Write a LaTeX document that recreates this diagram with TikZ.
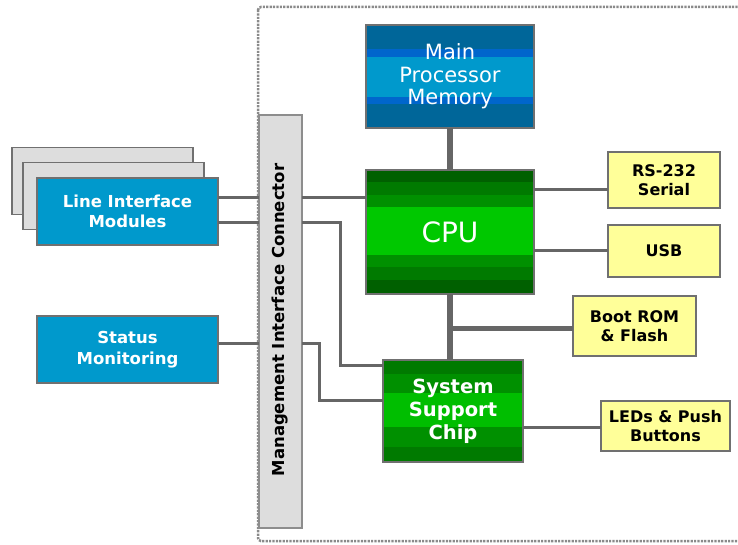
\documentclass[tikz,border=0pt]{standalone}
\usepackage{fontspec}
\setmainfont{DejaVu Sans}
\definecolor{lineg}{HTML}{666666}
\definecolor{boxline}{HTML}{707070}
\definecolor{bluebox}{HTML}{0099CC}
\definecolor{greybox}{HTML}{DDDDDD}
\definecolor{yelbox}{HTML}{FFFF99}
\definecolor{dotg}{HTML}{8A8A8A}
\definecolor{mA}{HTML}{006699}
\definecolor{mB}{HTML}{0066CC}
\definecolor{mC}{HTML}{0099CC}
\definecolor{gA}{HTML}{006000}
\definecolor{gB}{HTML}{007A00}
\definecolor{gC}{HTML}{009000}
\definecolor{gD}{HTML}{00C800}
\definecolor{gE}{HTML}{00BE00}
\begin{document}
\begin{tikzpicture}[x=1pt,y=-1pt,
  box/.style={draw=boxline, line width=1.5pt, inner sep=0pt, outer sep=0pt, align=center},
  bluestyle/.style={box, fill=bluebox, text=white, font=\bfseries\fontsize{16.5}{20.5}\selectfont, minimum width=181pt, minimum height=67pt},
  backstyle/.style={box, fill=greybox, minimum width=181pt, minimum height=67pt},
  yelstyle/.style={box, fill=yelbox, text=black, font=\bfseries\fontsize{16}{19}\selectfont},
  wire/.style={draw=lineg, line width=3pt},
  thickwire/.style={draw=lineg, line width=6pt},
]
\useasboundingbox (0,0) rectangle (738,545);
% dotted frame
\draw[draw=dotg, line width=2.5pt, dash pattern=on 2.2pt off 1.2pt, rounded corners=3pt] (258,7) rectangle (780,541);

% coordinates for connector levels
\coordinate (r1) at (0,198);
\coordinate (r2) at (0,223);
\coordinate (r3) at (0,343);
\coordinate (s1) at (0,365);
\coordinate (s2) at (0,400);
\coordinate (k1) at (340,223);
\coordinate (k2) at (340,365);
\coordinate (k3) at (319,343);
\coordinate (k4) at (319,400);
\coordinate (u1) at (0,190);
\coordinate (u2) at (0,250);
\coordinate (u3) at (0,328);
\coordinate (u4) at (0,427);

% back boxes
\node[backstyle] (back1) at (102.5,181) {};
\node[backstyle] (back2) at (113.5,196) {};

% nodes
\node[bluestyle] (lim) at (127.5,211.5) {Line Interface\\Modules};
\node[bluestyle] (status) at (127.5,349.5) {Status\\Monitoring};
\node[box, fill=greybox, draw=boxline!80, minimum width=43pt, minimum height=413pt] (conn) at (280.5,321.5) {};
\node[rotate=90, font=\bfseries\fontsize{16.5}{18}\selectfont] (conntext) at (280.5,320) {Management Interface Connector};

\node[box, minimum width=168pt, minimum height=103pt, text=white, font=\fontsize{21}{22.5}\selectfont,
  path picture={
    \fill[mA] (path picture bounding box.north west) rectangle (path picture bounding box.south east);
    \fill[mB] ([yshift=-24pt]path picture bounding box.north west) rectangle ([yshift=24pt]path picture bounding box.south east);
    \fill[mC] ([yshift=-32pt]path picture bounding box.north west) rectangle ([yshift=31pt]path picture bounding box.south east);
  }] (mem) at (450,76.5) {Main\\Processor\\Memory};

\node[box, minimum width=168pt, minimum height=124pt, text=white, font=\fontsize{28}{30}\selectfont,
  path picture={
    \fill[gA] (path picture bounding box.north west) rectangle (path picture bounding box.south east);
    \fill[gB] ([yshift=-12pt]path picture bounding box.north west) rectangle ([yshift=14pt]path picture bounding box.south east);
    \fill[gC] ([yshift=-25pt]path picture bounding box.north west) rectangle ([yshift=27pt]path picture bounding box.south east);
    \fill[gD] ([yshift=-37pt]path picture bounding box.north west) rectangle ([yshift=39pt]path picture bounding box.south east);
  }] (cpu) at (450,232) {CPU};

\node[box, minimum width=140pt, minimum height=102pt, text=white, font=\bfseries\fontsize{19.5}{23}\selectfont,
  path picture={
    \fill[gB] (path picture bounding box.north west) rectangle (path picture bounding box.south east);
    \fill[gC] ([yshift=-14pt]path picture bounding box.north west) rectangle ([yshift=15pt]path picture bounding box.south east);
    \fill[gE] ([yshift=-33pt]path picture bounding box.north west) rectangle ([yshift=35pt]path picture bounding box.south east);
  }] (ssc) at (453,411) {System\\Support\\Chip};

\node[yelstyle, minimum width=112pt, minimum height=56pt] (rs) at (664,180) {RS-232\\Serial};
\node[yelstyle, minimum width=112pt, minimum height=52pt] (usb) at (664,251) {USB};
\node[yelstyle, minimum width=123pt, minimum height=60pt] (boot) at (634.5,326) {Boot ROM\\\& Flash};
\node[yelstyle, minimum width=129pt, minimum height=50pt] (leds) at (665.5,426) {LEDs \& Push\\Buttons};

% connectors
\draw[wire] (lim.east |- r1) -- (conn.west |- r1);
\draw[wire] (lim.east |- r2) -- (conn.west |- r2);
\draw[wire] (status.east |- r3) -- (conn.west |- r3);
\draw[wire] (conn.east |- r1) -- (cpu.west |- r1);
\draw[wire] (conn.east |- r2) -- (k1) -- (k2) -- (ssc.west |- s1);
\draw[wire] (conn.east |- r3) -- (k3) -- (k4) -- (ssc.west |- s2);
\draw[thickwire] (mem.south) -- (cpu.north);
\draw[thickwire] (cpu.south) -- (cpu.south |- ssc.north);
\draw[draw=lineg, line width=5pt] (cpu.south |- u3) -- (boot.west |- u3);
\draw[wire] (cpu.east |- u1) -- (rs.west |- u1);
\draw[wire] (cpu.east |- u2) -- (usb.west |- u2);
\draw[wire] (ssc.east |- u4) -- (leds.west |- u4);
\end{tikzpicture}
\end{document}
